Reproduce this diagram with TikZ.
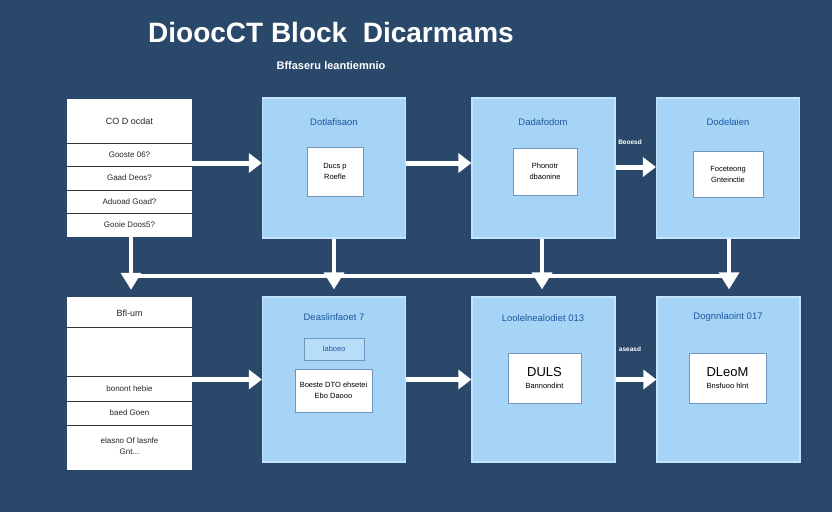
\documentclass[tikz,border=0pt]{standalone}
\usepackage{fontspec}
\setmainfont{Liberation Sans}
\usetikzlibrary{arrows.meta,calc}
\definecolor{bg}{RGB}{42,73,106}
\definecolor{boxblue}{RGB}{165,212,247}
\definecolor{boxedge}{RGB}{196,228,251}
\definecolor{titleblue}{RGB}{30,88,160}
\definecolor{inedge}{RGB}{110,150,190}
\definecolor{smallblue}{RGB}{184,221,248}
\definecolor{divline}{RGB}{50,55,65}
\tikzset{
  listbox/.style={fill=white,draw=none,minimum width=125pt,inner sep=0pt},
  bigbox/.style={fill=boxblue,draw=boxedge,line width=1.2pt,minimum width=143pt,inner sep=0pt},
  inbox/.style={fill=white,draw=inedge,line width=0.6pt,inner sep=0pt,align=center,font=\fontsize{7.5}{11}\selectfont},
  boxtitle/.style={text=titleblue,font=\fontsize{9.5}{11}\selectfont},
  listtext/.style={text=black!85,font=\fontsize{8}{11}\selectfont,align=center},
  divider/.style={draw=divline,line width=0.8pt},
  sidearr/.style={draw=white,line width=5pt,-{Triangle[length=13pt,width=19pt]}},
  busline/.style={draw=white,line width=3.5pt},
  busarr/.style={draw=white,line width=3.5pt,-{Triangle[length=17pt,width=20pt]},shorten >=7pt},
  arrlabel/.style={text=white,font=\bfseries\fontsize{6.5}{7}\selectfont,inner sep=1pt}
}
\begin{document}
\begin{tikzpicture}[x=1pt,y=-1pt]
\useasboundingbox[fill=bg] (0,0) rectangle (832,512);
% titles
\node[text=white,font=\bfseries\fontsize{28}{32}\selectfont] (title) at (331,32) {DioocCT Block\ \ Dicarmams};
\node[text=white,font=\bfseries\fontsize{11}{12}\selectfont] (subtitle) at (331,66) {Bffaseru leantiemnio};
% top row
\node[listbox,minimum height=138pt] (list1) at (129.5,168) {};
\draw[divider] (67,143) -- (192,143);
\draw[divider] (67,166) -- (192,166);
\draw[divider] (67,190) -- (192,190);
\draw[divider] (67,213) -- (192,213);
\node[listtext,font=\fontsize{9}{11}\selectfont] (l1a) at (129.5,121) {CO D ocdat};
\node[listtext] (l1b) at (129.5,154.5) {Gooste 06?};
\node[listtext] (l1c) at (129.5,178) {Gaad Deos?};
\node[listtext] (l1d) at (129.5,201.5) {Aduoad Goad?};
\node[listtext] (l1e) at (129.5,225) {Gooie Doos5?};

\node[bigbox,minimum height=140pt] (box1) at (334,168) {};
\node[boxtitle] (t1) at (334,122) {Dotlafisaon};
\node[inbox,minimum width=56pt,minimum height=49pt] (in1) at (335,171.5) {Ducs p\\Roefle};

\node[bigbox,minimum height=140pt] (box2) at (543.5,168) {};
\node[boxtitle] (t2) at (543,122) {Dadafodom};
\node[inbox,minimum width=64pt,minimum height=47pt] (in2) at (545,171.5) {Phonotr\\dbaonine};

\node[bigbox,minimum height=140pt] (box3) at (728,168) {};
\node[boxtitle] (t3) at (728,122) {Dodelaien};
\node[inbox,minimum width=70pt,minimum height=46pt] (in3) at (728,174) {Foceteong\\Gnteinctie};

% bottom row
\node[listbox,minimum height=173pt] (list2) at (129.5,383.5) {};
\draw[divider] (67,327) -- (192,327);
\draw[divider] (67,376) -- (192,376);
\draw[divider] (67,401) -- (192,401);
\draw[divider] (67,425) -- (192,425);
\node[listtext,font=\fontsize{9}{11}\selectfont] (l2a) at (129.5,313) {Bfl-um};
\node[listtext] (l2b) at (129.5,388.5) {bonont hebie};
\node[listtext] (l2c) at (129.5,413) {baed Goen};
\node[listtext] (l2d) at (129.5,446) {elasno Of lasnfe\\Gnt...};

\node[bigbox,minimum height=165pt] (box4) at (334,379.5) {};
\node[boxtitle] (t4) at (334,317) {Deaslinfaoet 7};
\node[fill=smallblue,draw=inedge,line width=0.6pt,minimum width=60pt,minimum height=22pt,inner sep=0pt,text=titleblue,font=\fontsize{7.5}{9}\selectfont] (sm4) at (334,349) {Iaboeo};
\node[inbox,minimum width=77pt,minimum height=43pt] (in4) at (333.5,390.5) {Boeste DTO ehsetei\\Ebo Daooo};

\node[bigbox,minimum height=165pt] (box5) at (543.5,379.5) {};
\node[boxtitle] (t5) at (543,318) {Loolelnealodiet 013};
\node[inbox,minimum width=73pt,minimum height=50pt] (in5) at (544.5,378) {{\fontsize{13}{15}\selectfont DULS}\\[1pt]Bannondint};

\node[bigbox,minimum height=165pt] (box6) at (728.5,379.5) {};
\node[boxtitle] (t6) at (728,317) {Dognnlaoint 017};
\node[inbox,minimum width=77pt,minimum height=50pt] (in6) at (727.5,378) {{\fontsize{13}{15}\selectfont DLeoM}\\[1pt]Bnsfuoo hlnt};

% horizontal arrows
\draw[sidearr] ($(list1.east)+(0,-5)$) -- ($(box1.west)+(0,-5)$);
\draw[sidearr] ($(box1.east)+(0,-5)$) -- ($(box2.west)+(0,-5)$);
\draw[sidearr] ($(box2.east)+(0,-1)$) -- ($(box3.west)+(0,-1)$);
\draw[sidearr] (box4.west -| list2.east) -- (box4.west);
\draw[sidearr] (box4.east) -- (box5.west);
\draw[sidearr] (box5.east) -- (box6.west);
\node[arrlabel] (lab1) at (630,142) {Beoesd};
\node[arrlabel] (lab2) at (630,349) {aseasd};

% bus
\coordinate (busL) at (131,276);
\coordinate (busR) at (729,276);
\draw[busline] (busL) -- (busR);
\draw[busarr] ($(list1.south)+(1.5,0)$) -- ($(list2.north)+(1.5,0)$);
\draw[busarr] (box1.south) -- (box4.north);
\draw[busarr] ($(box2.south)+(-1.5,0)$) -- ($(box5.north)+(-1.5,0)$);
\draw[busarr] ($(box3.south)+(1,0)$) -- ($(box6.north)+(0.5,0)$);
\end{tikzpicture}
\end{document}
